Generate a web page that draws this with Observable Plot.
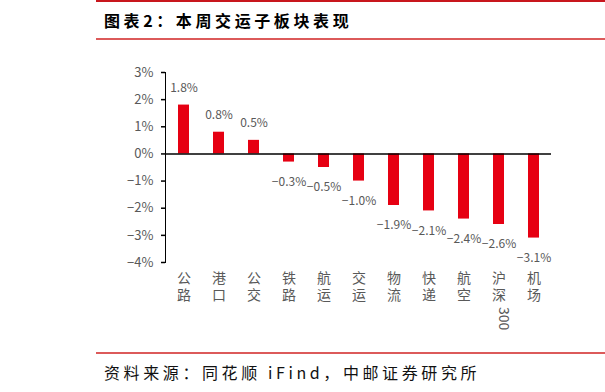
<!DOCTYPE html>
<html>
<head>
<meta charset="utf-8">
<script src="https://cdn.jsdelivr.net/npm/d3@7"></script>
<script src="https://cdn.jsdelivr.net/npm/@observablehq/plot@0.6"></script>
<style>
  html, body { margin: 0; padding: 0; background: #fff; }
  #page { position: relative; width: 605px; height: 392px; overflow: hidden; background: #fff; font-family: "Noto Sans CJK SC", "Noto Sans", sans-serif; }
  .rl { position: absolute; left: 96px; width: 509px; }
  #title { position: absolute; left: 104px; top: 8px; font-size: 16px; font-weight: bold; color: #000; line-height: 24px; white-space: nowrap; letter-spacing: 3.6px; }
  #source { position: absolute; left: 104px; top: 360px; font-size: 16px; color: #111; line-height: 24px; white-space: nowrap; letter-spacing: 3.6px; }
  #chart { position: absolute; left: 0; top: 40px; }
</style>
</head>
<body>
<div id="page">
  <div class="rl" style="top:0;height:2px;background:#c8161d"></div>
  <div id="title">图表2：本周交运子板块表现</div>
  <div class="rl" style="top:38px;height:2px;background:#dc5a5a"></div>
  <div id="chart"></div>
  <div class="rl" style="top:352px;height:1.5px;background:#dc5a5a"></div>
  <div id="source">资料来源：同花顺 iFind，中邮证券研究所</div>
</div>
<script>
const categories = ["公路", "港口", "公交", "铁路", "航运", "交运", "物流", "快递", "航空", "沪深300", "机场"];
const values = [1.8, 0.8, 0.5, -0.3, -0.5, -1.0, -1.9, -2.1, -2.4, -2.6, -3.1];
const yTicks = [-4, -3, -2, -1, 0, 1, 2, 3];

const data = categories.map((c, i) => {
  const m = c.match(/^([^\x00-\x7f]*)(.*)$/);
  return {name: c, value: values[i], cjk: m[1], latin: m[2]};
});
const fmtPct = v => (v < 0 ? "\u2212" : "") + Math.abs(v).toFixed(1) + "%";
const fmtTick = v => (v < 0 ? "\u2212" : "") + Math.abs(v) + "%";
const LH = 16.7; // label line step (px)

const chart = Plot.plot({
  width: 605,
  height: 312,
  marginTop: 32,
  marginBottom: 90,
  marginLeft: 165,
  marginRight: 54,
  style: {fontFamily: "'Noto Sans CJK SC', 'Noto Sans', sans-serif", fontSize: "13px", background: "transparent"},
  x: {domain: categories, paddingInner: 0.686, paddingOuter: 0.343, axis: null},
  y: {domain: [-4, 3], ticks: yTicks, tickFormat: fmtTick, tickSize: 4, tickPadding: 8, line: true, label: null},
  marks: [
    Plot.barY(data, {x: "name", y: "value", fill: "#e60012"}),
    Plot.ruleY([0], {stroke: "#000", strokeWidth: 1.5}),
    Plot.text(data.filter(d => d.value >= 0), {x: "name", y: "value", text: d => fmtPct(d.value), dy: -17, fontSize: 12, fill: "#595959"}),
    Plot.text(data.filter(d => d.value < 0), {x: "name", y: "value", text: d => fmtPct(d.value), dy: 20, fontSize: 12, fill: "#595959"}),
    Plot.text(data, {x: "name", text: d => Array.from(d.cjk).join("\n"), frameAnchor: "bottom", dy: 9, lineAnchor: "top", lineHeight: LH / 14, fontSize: 14, fill: "#595959"}),
    Plot.text(data.filter(d => d.latin), {x: "name", text: "latin", frameAnchor: "bottom", dy: 11 + 2 * LH, rotate: 90, textAnchor: "start", fontSize: 14, fill: "#595959", ariaLabel: "xlab-latin"})
  ]
});

const svg = d3.select(chart);
svg.selectAll('g[aria-label="xlab-latin"] text').style("letter-spacing", "1px");
svg.selectAll('g[aria-label="y-axis tick label"]').attr("fill", "#595959");
svg.selectAll('g[aria-label="y-axis tick label"] text').attr("fill", "#595959");
svg.selectAll('g[aria-label="y-axis tick"]').attr("stroke", "#000").attr("stroke-width", 1.5);
svg.selectAll('g[aria-label="y-axis line"]').attr("stroke", "#000").attr("stroke-width", 1.5);
svg.selectAll('g[aria-label="y-axis line"] line').attr("stroke-width", 1.5);

document.getElementById("chart").appendChild(chart);
</script>
</body>
</html>
